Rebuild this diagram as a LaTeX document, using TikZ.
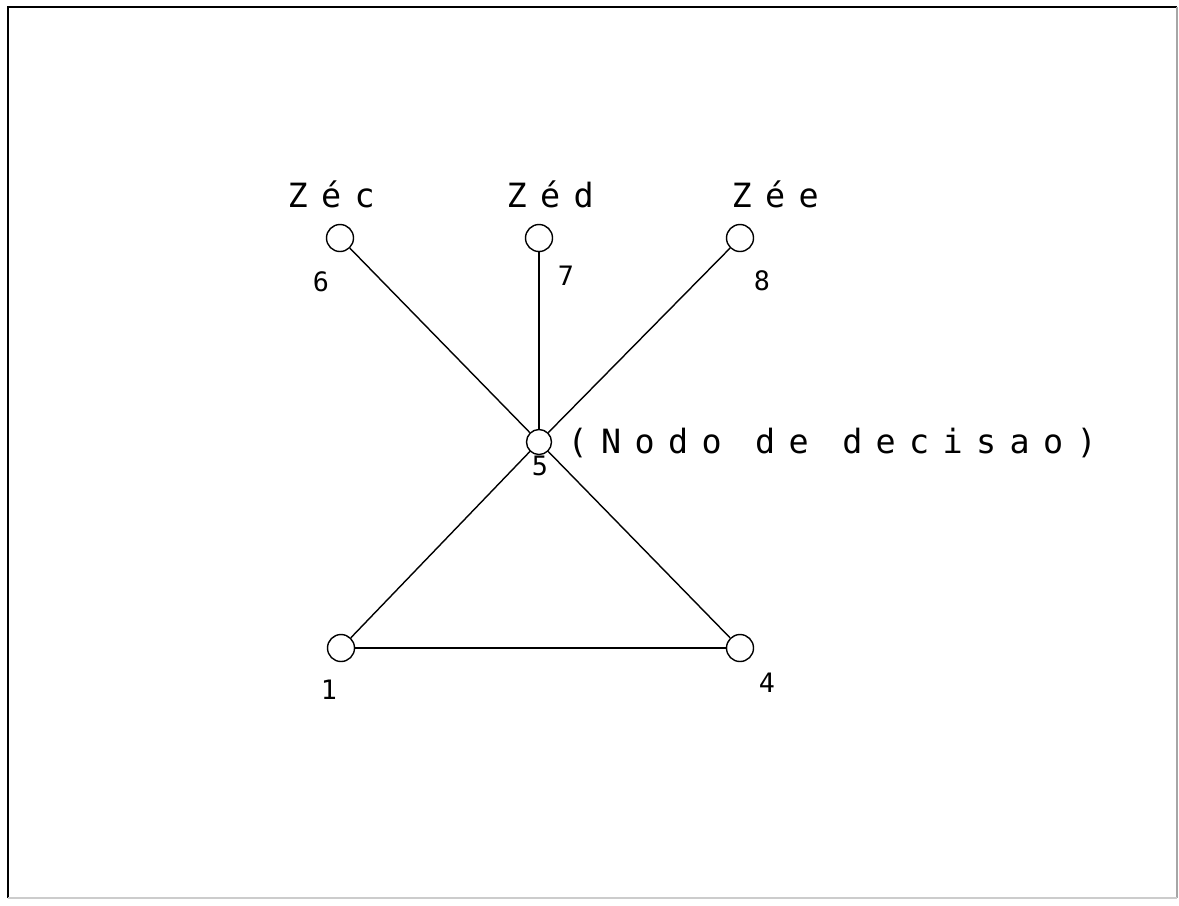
\documentclass[tikz,border=0pt]{standalone}
\usepackage{fontspec}
\newfontfamily\plotfont[LetterSpace=40]{DejaVu Sans Mono}
\newfontfamily\digitfont{DejaVu Sans Mono}
\tikzset{
    net diagram/.style = {x=0.01cm, y=-0.01cm},
    line/.style        = {thin},
    junction/.style    = {draw, thin, circle, fill=white, inner sep=0pt,
                          minimum size=0.27cm},
    small junction/.style = {junction, minimum size=0.25cm},
    zone/.style        = {inner sep=0pt, anchor=base west,
                          font=\plotfont\fontsize{9.5pt}{11pt}\selectfont},
    num/.style         = {inner sep=0pt,
                          font=\digitfont\fontsize{7.6pt}{9pt}\selectfont},
    frame/.style       = {thin}
}

\begin{document}
\begin{tikzpicture}[net diagram]
\useasboundingbox (0,0) rectangle (1179,905);

% Page frame.
\coordinate (fbl) at (8,898);
\coordinate (ftl) at (8,7);
\coordinate (ftr) at (1177,7);
\coordinate (fbr) at (1177,898);
\draw[frame] (fbl) -- (ftl) -- (ftr);
\draw[frame, gray!70] (ftr) -- (fbr);
\draw[frame, gray!40] (fbl) -- (fbr);

% Nodes of the network.
\node[junction] (n6) at (340,238) {};
\node[junction] (n7) at (539,238) {};
\node[junction] (n8) at (740,238) {};
\node[small junction] (n5) at (539,442) {};
\node[junction] (n1) at (341,648) {};
\node[junction] (n4) at (740,648) {};

% Branches.
\draw[line] (n6) -- (n5);
\draw[line] (n7) -- (n5);
\draw[line] (n8) -- (n5);
\draw[line] (n5) -- (n1);
\draw[line] (n5) -- (n4);
\draw[line] (n1) -- (n4);

% Node numbers.
\node[num] (l6) at (321,282) {6};
\node[num] (l7) at (566,276) {7};
\node[num] (l8) at (762,281) {8};
\node[num] (l5) at (540,466) {5};
\node[num] (l1) at (329,690) {1};
\node[num] (l4) at (767,683) {4};

% Zone names and the decision node.
\node[zone] (zec) at (287,207) {Zéc};
\node[zone] (zed) at (506,207) {Zéd};
\node[zone] (zee) at (731,207) {Zée};
\node[zone] (dec) at (567,453) {(Nodo de decisao)};

\end{tikzpicture}
\end{document}
